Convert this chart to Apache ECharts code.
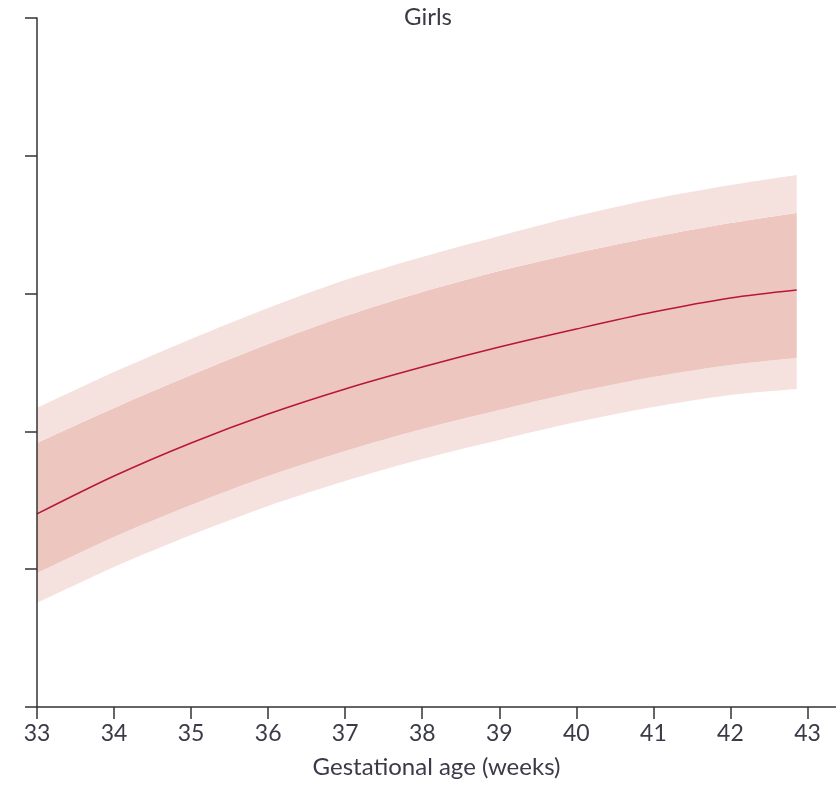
<!DOCTYPE html>
<html>
<head>
<meta charset="utf-8">
<script src="https://cdn.jsdelivr.net/npm/echarts@6/dist/echarts.min.js"></script>
<style>
html,body{margin:0;padding:0;background:#fff;}
#chart{width:836px;height:787px;}
</style>
</head>
<body>
<div id="chart"></div>
<script>
// Gestational age in weeks
const weeks = [33, 34, 35, 36, 37, 38, 39, 40, 41, 42, 42.86];
// Centile curves (arbitrary y units)
const outerTop    = [21.70, 24.31, 26.71, 28.96, 30.99, 32.66, 34.18, 35.63, 36.87, 37.88, 38.61];
const innerTop    = [19.16, 21.70, 24.09, 26.34, 28.37, 30.12, 31.64, 32.95, 34.11, 35.12, 35.85];
const median      = [14.01, 16.76, 19.16, 21.26, 23.08, 24.67, 26.12, 27.43, 28.66, 29.68, 30.26];
const innerBottom = [ 9.72, 12.34, 14.66, 16.76, 18.58, 20.17, 21.55, 22.86, 23.95, 24.82, 25.33];
const outerBottom = [ 7.55, 10.16, 12.48, 14.59, 16.40, 18.00, 19.38, 20.68, 21.77, 22.64, 23.08];
const xTicks = [33, 34, 35, 36, 37, 38, 39, 40, 41, 42, 43];
const yTicks = [0, 10, 20, 30, 40, 50];

// rows are [value, week] so that stacking acts on the value (y) dimension
const rows = (ys) => weeks.map((w, i) => [ys[i], w]);
const diffRows = (a, b) => weeks.map((w, i) => [+(a[i] - b[i]).toFixed(3), w]);

const light = '#F5E2DF';
const dark = '#EDC6C0';
const axisColor = '#333333';
const font = 'Lato, "Noto Sans", sans-serif';
const textColor = '#3a3a48';

function bandSeries(data, color) {
  return {
    type: 'line', stack: 'band', data: data, encode: {x: 1, y: 0},
    smooth: 0.3, symbol: 'none', silent: true,
    lineStyle: {width: 0},
    areaStyle: color ? {color: color, opacity: 1} : undefined,
    z: 2
  };
}

const chart = echarts.init(document.getElementById('chart'), null, {renderer: 'canvas'});
chart.setOption({
  animation: false,
  title: {
    text: 'Girls', left: 428, top: 5, textAlign: 'center', padding: 0,
    textStyle: {fontFamily: font, fontSize: 24, fontWeight: 'normal', color: textColor}
  },
  grid: {left: 37, right: 0, top: 18, bottom: 80, containLabel: false},
  xAxis: {
    type: 'value', min: 33, max: 43.37, interval: 1,
    splitLine: {show: false},
    axisLine: {lineStyle: {color: axisColor, width: 1.5}},
    axisTick: {length: 12, lineStyle: {color: axisColor, width: 1.5}, customValues: xTicks},
    axisLabel: {customValues: xTicks, fontFamily: font, fontSize: 23, color: textColor, margin: 15},
    name: 'Gestational age (weeks)', nameLocation: 'middle', nameGap: 48,
    nameTextStyle: {fontFamily: font, fontSize: 24, color: textColor},
    z: 10
  },
  yAxis: {
    type: 'value', min: 0, max: 50, interval: 10,
    splitLine: {show: false},
    axisLine: {show: true, lineStyle: {color: axisColor, width: 1.5}},
    axisTick: {show: true, length: 12, lineStyle: {color: axisColor, width: 1.5}, customValues: yTicks},
    axisLabel: {show: false},
    z: 10
  },
  series: [
    bandSeries(rows(outerBottom), null),
    bandSeries(diffRows(innerBottom, outerBottom), light),
    bandSeries(diffRows(innerTop, innerBottom), dark),
    bandSeries(diffRows(outerTop, innerTop), light),
    {type: 'line', data: rows(median), encode: {x: 1, y: 0}, smooth: 0.3,
     symbol: 'none', silent: true, lineStyle: {color: '#B8153E', width: 1.5}, z: 6}
  ]
});
</script>
</body>
</html>
